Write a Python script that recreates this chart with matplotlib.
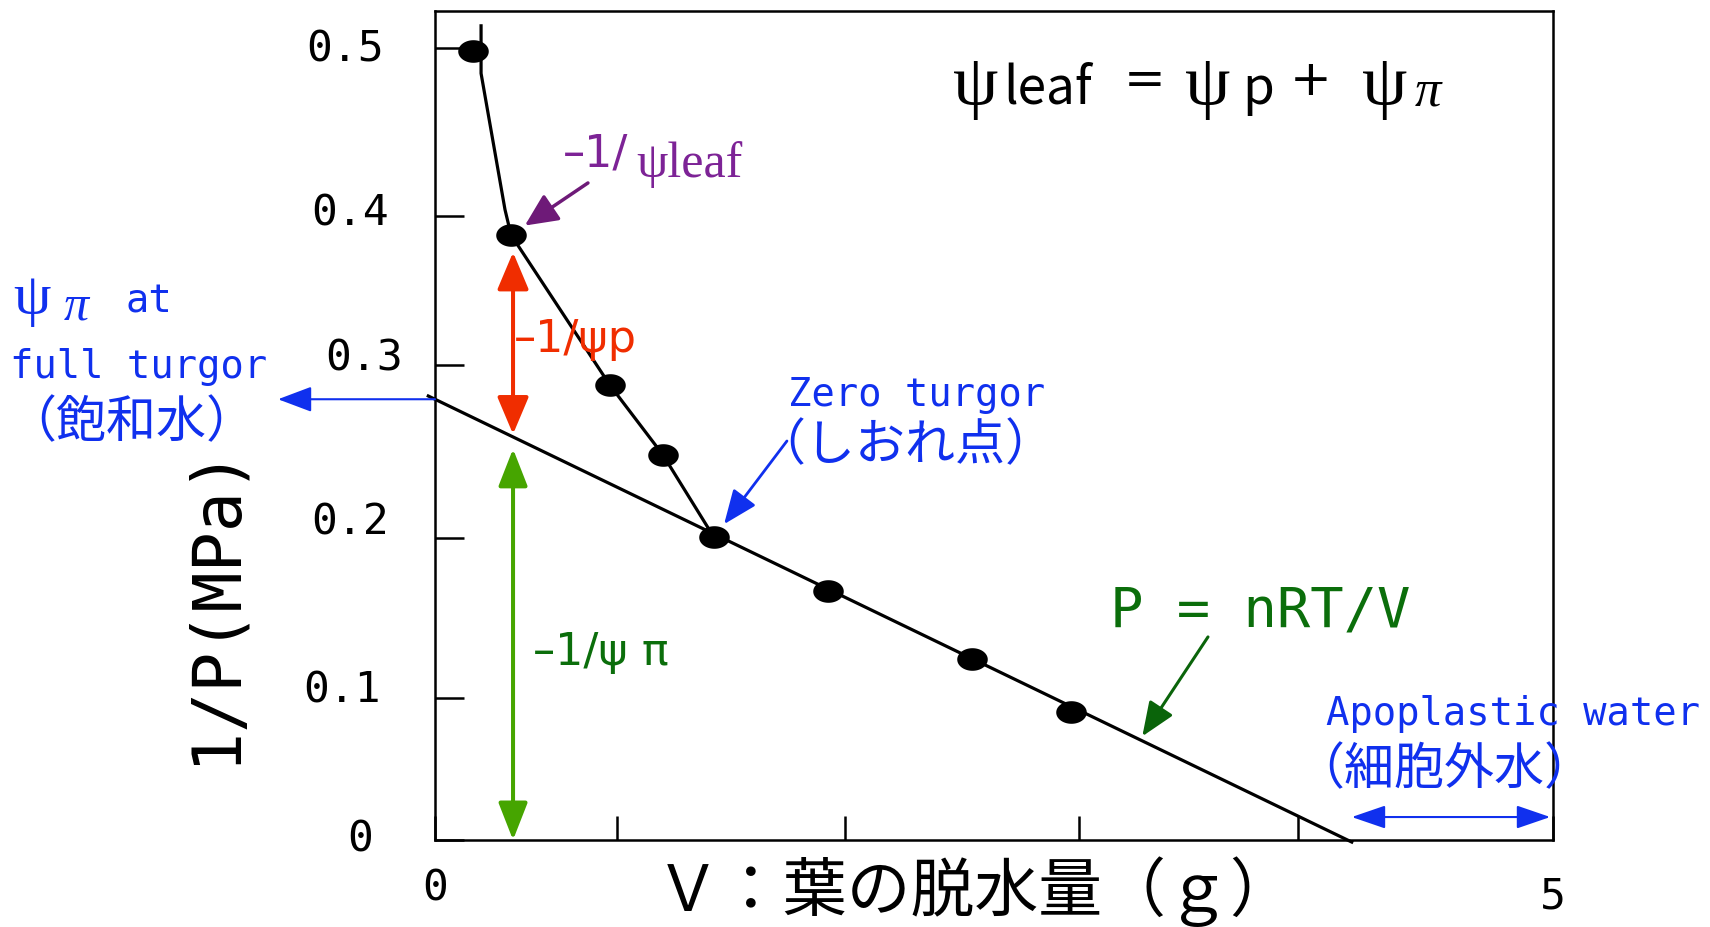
import numpy as np
import matplotlib.pyplot as plt
from matplotlib.transforms import ScaledTranslation

plt.rcParams["font.family"] = ["DejaVu Sans Mono", "Noto Sans CJK JP"]

# pressure-volume curve of a leaf: water lost V (g) against 1/P (1/MPa)
v_obs = [0.171, 0.340, 0.783, 1.020, 1.248, 1.758, 2.402, 2.844]
invp_obs = [0.498, 0.382, 0.287, 0.243, 0.191, 0.157, 0.114, 0.081]

# turgid part of the curve, drawn by hand down to the zero-turgor point
curve_v = [0.206, 0.206, 0.313] + v_obs[1:5]
curve_y = [0.514, 0.484, 0.398] + invp_obs[1:5]

# straight osmotic line, extrapolated to both axes
osm_v = [-0.03, 4.10]
osm_y = [0.2803, -0.0013]

# the axis ticks of the original drawing are not evenly spaced
ytick_pos = [0, 0.0895, 0.1908, 0.2999, 0.3941, 0.5]
ytick_lab = ["0", "0.1", "0.2", "0.3", "0.4", "0.5"]
ylab_shift = [(-16, 6), (-8, 13), (0, 21), (14, 12), (0, 8), (-5, 4)]   # px
xtick_pos = [0, 0.816, 1.834, 2.880, 3.858, 5]
xtick_lab = ["0", "", "", "", "", "5"]

MONO = "DejaVu Sans Mono"
CJK = "Noto Sans CJK JP"
SERIF = "Liberation Serif"
SANS = "DejaVu Sans"
BLUE = "#1030ee"
RED = "#f02d00"
PURPLE = "#7d2396"
GREEN = "#46a500"
DKGREEN = "#0b6e0b"

W, H = 1710, 928
fig = plt.figure(figsize=(W / 100, H / 100), dpi=100)
ax = fig.add_axes([435 / W, 1 - 841 / H, (1553 - 435) / W, (841 - 12) / H])
ax.set_xlim(0, 5)
ax.set_ylim(0, 829 / 1584)


def line_at(v):
    return np.interp(v, osm_v, osm_y)


def put(x, y, s, **kw):
    # x, y in figure pixels from the top-left corner
    fig.text(x / W, 1 - y / H, s, ha="left", va="baseline", **kw)


def shift(artist, dx, dy):
    # move a tick label by (dx, dy) pixels, dy upwards
    artist.set_transform(artist.get_transform()
                         + ScaledTranslation(dx / 100, dy / 100, fig.dpi_scale_trans))


def arrow(head, tail, color, lw, hl, hw, style="-|>", sa=0, sb=0):
    ax.annotate("", xy=head, xytext=tail,
                arrowprops=dict(arrowstyle=f"{style},head_length={hl},head_width={hw}",
                                color=color, lw=lw, shrinkA=sa, shrinkB=sb,
                                mutation_scale=1),
                annotation_clip=False)


# curve, osmotic line and measured points
ax.plot(curve_v, curve_y, color="black", lw=2.3, clip_on=False, zorder=3)
ax.plot(osm_v, osm_y, color="black", lw=2.3, clip_on=False, zorder=3)
t = np.linspace(0, 2 * np.pi, 64)
ell = np.column_stack([np.cos(t), 0.74 * np.sin(t)])
ax.plot(v_obs, invp_obs, ls="none", marker=ell, ms=22, mew=0,
        color="black", clip_on=False, zorder=4)

# axes frame and ticks
for sp in ax.spines.values():
    sp.set_linewidth(1.8)
ax.set_yticks(ytick_pos, ytick_lab)
ax.set_xticks(xtick_pos, xtick_lab)
ax.tick_params(axis="y", direction="in", length=21, width=1.8, pad=33, labelsize=31)
ax.tick_params(axis="x", direction="in", length=17, width=1.8, pad=19, labelsize=31)
for lbl, (dx, dy) in zip(ax.get_yticklabels(), ylab_shift):
    shift(lbl, dx, dy)
shift(ax.get_xticklabels()[-1], 0, -8)

fig.text(975 / W, 1 - 911 / H, "Ｖ：葉の脱水量（ｇ）", ha="center", va="baseline",
         family=CJK, size=46)
fig.text(214 / W, 1 - 604 / H, "1/P(MPa)", rotation=90, ha="center", va="center",
         family=MONO, size=48)

# psi_leaf = psi_p + psi_pi
put(953, 105, "ψ", family=SERIF, size=52)
put(1003, 104, "leaf", family=CJK, size=37)
put(1124, 95, "=", family=SANS, size=36)
put(1185, 105, "ψ", family=SERIF, size=52)
put(1242, 104, "p", family=CJK, size=37)
put(1290, 95, "+", family=SANS, size=36)
put(1362, 105, "ψ", family=SERIF, size=52)
put(1415, 106, "π", family=SERIF, style="italic", size=38)

# -1/psi_leaf at full turgor
p2 = (v_obs[1], invp_obs[1])
arrow(p2, (0.684, 0.4148), "#6e1a78", 2.5, 20, 9.4, sb=12)
put(563, 167, "–1/", family=SANS, size=32, color=PURPLE)
put(636, 177, "ψleaf", family=SERIF, size=36, color=PURPLE)

# turgor and osmotic parts of the potential
xa = 0.349
arrow((xa, line_at(xa)), (xa, p2[1]), RED, 2.9, 23, 9.7, style="<|-|>", sa=12.5, sb=2)
put(514, 352, "–1/ψp", family=SANS, size=32, color=RED)
arrow((xa, 0), (xa, line_at(xa)), GREEN, 2.9, 23, 9, style="<|-|>", sa=8.6, sb=0)
put(533, 665, "–1/ψ π", family=SANS, size=32, color=DKGREEN)

# osmotic potential at full turgor (intercept on the 1/P axis)
arrow((-0.702, line_at(0)), (0, line_at(0)), BLUE, 1.5, 21, 7.9)
put(13, 314, "ψ", family=SERIF, size=43, color=BLUE)
put(64, 320, "π", family=SERIF, style="italic", size=36, color=BLUE)
put(125, 313, "at", family=MONO, size=28, color=BLUE)
put(10, 378, "full turgor", family=MONO, size=28, color=BLUE)
put(6, 437, "（飽和水）", family=CJK, size=36, color=BLUE)

# zero turgor point
p5 = (v_obs[4], invp_obs[4])
arrow(p5, (1.574, 0.2519), BLUE, 2.0, 21, 8.6, sb=12)
put(788, 406, "Zero turgor", family=MONO, size=28, color=BLUE)
put(755, 460, "（しおれ点）", family=CJK, size=36, color=BLUE)

# Boyle-van't Hoff relation
arrow((3.153, line_at(3.153)), (3.457, 0.1282), "#0a640a", 2.2, 21, 8.6, sb=3)
put(1110, 627, "P = nRT/V", family=MONO, size=40, color=DKGREEN)

# apoplastic water: from the V-intercept to the end of the axis
arrow((5, 0.0145), (osm_v[1], 0.0145), BLUE, 1.5, 21, 7.2, style="<|-|>", sa=0, sb=2)
put(1326, 725, "Apoplastic water", family=MONO, size=28, color=BLUE)
put(1294, 784, "（細胞外水）", family=CJK, size=36, color=BLUE)

fig.savefig("out.png", dpi=100, facecolor="white")
